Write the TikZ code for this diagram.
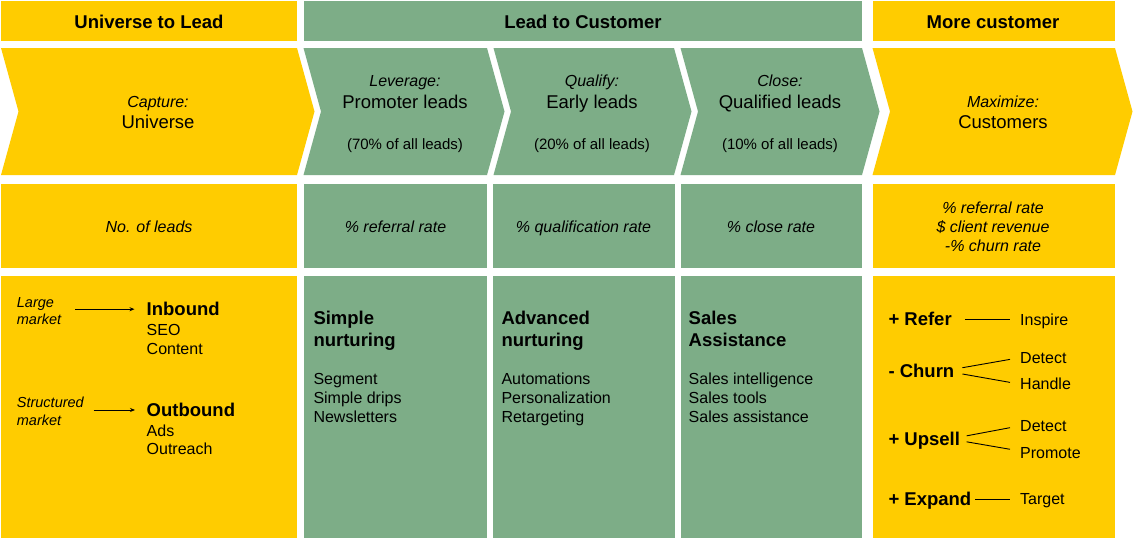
\documentclass[tikz,border=0pt]{standalone}
\usepackage{fontspec}
\setmainfont{Liberation Sans}
\usetikzlibrary{arrows.meta}
\definecolor{ylw}{HTML}{FFCC00}
\definecolor{grn}{HTML}{7DAD87}
\newcommand\FBig{\fontsize{18.5pt}{22pt}\selectfont}
\newcommand\FMed{\fontsize{16pt}{19pt}\selectfont}
\newcommand\FSm{\fontsize{15pt}{18pt}\selectfont}
\newcommand\FXs{\fontsize{14.5pt}{17pt}\selectfont}
\begin{document}
\begin{tikzpicture}[x=1pt,y=-1pt,
  txt/.style={inner sep=0pt,anchor=base,text=black},
  ltxt/.style={inner sep=0pt,anchor=base west,text=black},
  hdr/.style={txt,font=\FBig\bfseries},
  big/.style={txt,font=\FBig},
  ital/.style={txt,font=\FMed\itshape},
  pct/.style={txt,font=\FSm},
  mkt/.style={ltxt,font=\FXs\itshape},
  btitle/.style={ltxt,font=\FBig\bfseries},
  item/.style={ltxt,font=\FMed},
  conn/.style={line width=0.9pt,draw=black},
  arr/.style={conn,-{Stealth[length=5pt,width=4pt]}}]
\useasboundingbox (0,0) rectangle (1134,539);
\fill[white] (0,0) rectangle (1134,539);
% header row
\fill[ylw] (1,1) rectangle (297,41);
\fill[grn] (304,1) rectangle (862,41);
\fill[ylw] (872.5,1) rectangle (1114.5,41);
% chevrons
\fill[ylw] (1,48) -- (297,48) -- (314.5,111.5) -- (297,175) -- (1,175) -- (18.5,111.5) -- cycle;
\fill[grn] (303.5,48) -- (487,48) -- (504.5,111.5) -- (487,175) -- (303.5,175) -- (321,111.5) -- cycle;
\fill[grn] (493.5,48) -- (674,48) -- (691.5,111.5) -- (674,175) -- (493.5,175) -- (511,111.5) -- cycle;
\fill[grn] (680.5,48) -- (862,48) -- (879.5,111.5) -- (862,175) -- (680.5,175) -- (698,111.5) -- cycle;
\fill[ylw] (872.5,48) -- (1115,48) -- (1132.5,111.5) -- (1115,175) -- (872.5,175) -- (890,111.5) -- cycle;
% metric row
\fill[ylw] (1,184) rectangle (297,268);
\fill[grn] (304,184) rectangle (487,268);
\fill[grn] (492.5,184) rectangle (675,268);
\fill[grn] (680.5,184) rectangle (862,268);
\fill[ylw] (872.5,184) rectangle (1114.5,268);
% bottom row
\fill[ylw] (1,276) rectangle (297,538);
\fill[grn] (304,276) rectangle (487,538);
\fill[grn] (492.5,276) rectangle (675,538);
\fill[grn] (680.5,276) rectangle (862,538);
\fill[ylw] (872.5,276) rectangle (1114.5,538);

% header texts
\node[hdr] (h1) at (149,28.3) {Universe to Lead};
\node[hdr] (h2) at (583,28.3) {Lead to Customer};
\node[hdr] (h3) at (993,28.3) {More customer};

% chevron texts
\node[ital] (c1a) at (158,107.2) {Capture:};
\node[big]  (c1b) at (158,128.5) {Universe};
\node[ital] (c2a) at (405,86.5) {Leverage:};
\node[big]  (c2b) at (405,108) {Promoter leads};
\node[pct]  (c2c) at (405,149) {(70\% of all leads)};
\node[ital] (c3a) at (592,86.5) {Qualify:};
\node[big]  (c3b) at (592,108) {Early leads};
\node[pct]  (c3c) at (592,149) {(20\% of all leads)};
\node[ital] (c4a) at (780,86.5) {Close:};
\node[big]  (c4b) at (780,108) {Qualified leads};
\node[pct]  (c4c) at (780,149) {(10\% of all leads)};
\node[ital] (c5a) at (1003,107.2) {Maximize:};
\node[big]  (c5b) at (1003,128.5) {Customers};

% metric texts
\node[ital] (m1) at (149,232.7) {No. of leads};
\node[ital] (m2) at (395.5,232.7) {\% referral rate};
\node[ital] (m3) at (583.5,232.7) {\% qualification rate};
\node[ital] (m4) at (771,232.7) {\% close rate};
\node[ital] (m5a) at (993,213.5) {\% referral rate};
\node[ital] (m5b) at (993,232.7) {\$ client revenue};
\node[ital] (m5c) at (993,251.5) {-\% churn rate};

% bottom left
\node[mkt] (lm1) at (16.7,307) {Large};
\node[mkt] (lm2) at (16.7,324.5) {market};
\node[btitle] (inb) at (146.5,315.8) {Inbound};
\node[item] (seo) at (146.5,335.5) {SEO};
\node[item] (cont) at (146.5,354.5) {Content};
\node[mkt] (sm1) at (16.7,407.3) {Structured};
\node[mkt] (sm2) at (16.7,425) {market};
\node[btitle] (outb) at (146.5,416.6) {Outbound};
\node[item] (ads) at (146.5,436.5) {Ads};
\node[item] (outr) at (146.5,454.8) {Outreach};
\draw[arr] ([xshift=14pt]lm2.east |- inb.west) -- ([xshift=-12pt]inb.west);
\draw[arr] ([xshift=-53pt]outb.west) -- ([xshift=-11.5pt]outb.west);

% green bottom columns
\node[btitle] (s1a) at (313.3,324.5) {Simple};
\node[btitle] (s1b) at (313.3,346.3) {nurturing};
\node[item] (s1c) at (313.3,384.5) {Segment};
\node[item] (s1d) at (313.3,403.5) {Simple drips};
\node[item] (s1e) at (313.3,422.5) {Newsletters};
\node[btitle] (s2a) at (501.3,324.5) {Advanced};
\node[btitle] (s2b) at (501.3,346.3) {nurturing};
\node[item] (s2c) at (501.3,384.5) {Automations};
\node[item] (s2d) at (501.3,403.5) {Personalization};
\node[item] (s2e) at (501.3,422.5) {Retargeting};
\node[btitle] (s3a) at (688.5,324.5) {Sales};
\node[btitle] (s3b) at (688.5,346.3) {Assistance};
\node[item] (s3c) at (688.5,384.5) {Sales intelligence};
\node[item] (s3d) at (688.5,403.5) {Sales tools};
\node[item] (s3e) at (688.5,422.5) {Sales assistance};

% right column
\node[btitle] (refer) at (888.3,325.6) {+ Refer};
\node[item] (insp) at (1020,325.8) {Inspire};
\node[btitle] (churn) at (888.3,377.6) {- Churn};
\node[item] (det1) at (1020,363.8) {Detect};
\node[item] (hand) at (1020,389.8) {Handle};
\node[btitle] (ups) at (888.3,445.6) {+ Upsell};
\node[item] (det2) at (1020,431.8) {Detect};
\node[item] (prom) at (1020,458.3) {Promote};
\node[btitle] (exp) at (888.3,505.6) {+ Expand};
\node[item] (targ) at (1020,504.8) {Target};
\draw[conn] ([xshift=13pt,yshift=2.4pt]refer.east |- insp.west) -- ([xshift=-10pt,yshift=2.4pt]insp.west);
\draw[conn] ([xshift=8pt,yshift=3.3pt]churn.east) -- ([xshift=-10pt,yshift=-1pt]det1.west);
\draw[conn] ([xshift=8pt,yshift=-3pt]churn.east) -- ([xshift=-10pt,yshift=1.7pt]hand.west);
\draw[conn] ([xshift=6.5pt,yshift=5pt]ups.east) -- ([xshift=-10pt,yshift=-1.3pt]det2.west);
\draw[conn] ([xshift=6.5pt,yshift=-1pt]ups.east) -- ([xshift=-10pt,yshift=3.6pt]prom.west);
\draw[conn] ([xshift=4pt,yshift=1.5pt]exp.east |- targ.west) -- ([xshift=-10pt,yshift=1.5pt]targ.west);
\end{tikzpicture}
\end{document}
